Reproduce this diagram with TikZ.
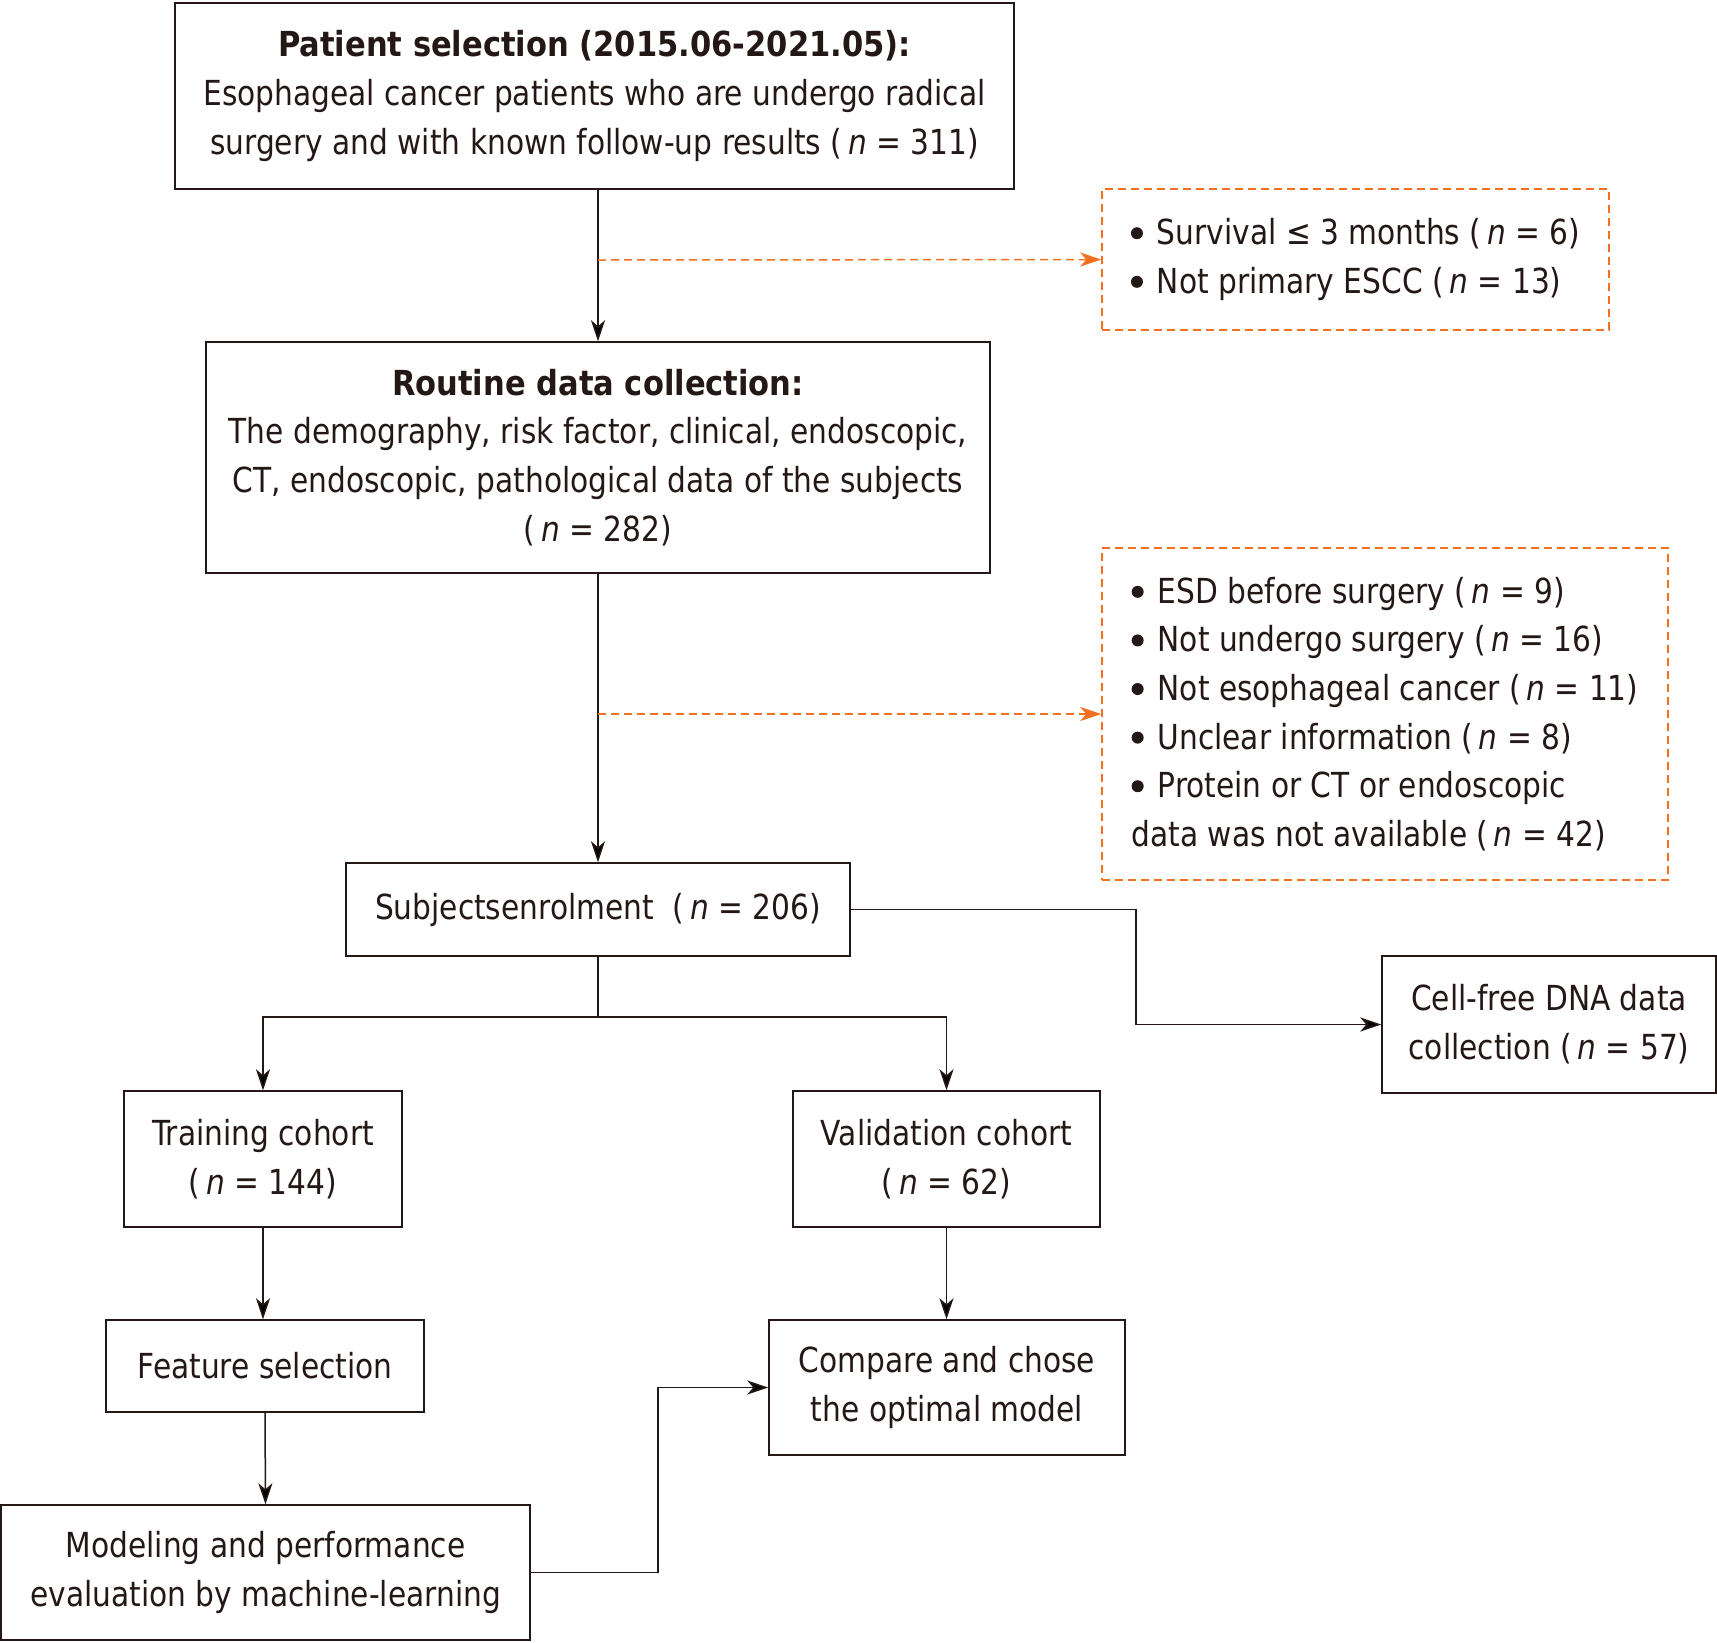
\documentclass[tikz,border=0pt]{standalone}
\usepackage{fontspec}
\setmainfont{DejaVu Sans}[FakeStretch=0.86]
\usetikzlibrary{arrows.meta,positioning}
\definecolor{ink}{HTML}{231815}
\definecolor{orng}{HTML}{F37021}
\tikzset{
  box/.style={draw=ink,line width=1.5pt,text=ink,align=center,inner sep=0pt,
    font=\fontsize{34.5}{48.7}\selectfont},
  exbox/.style={draw=orng,line width=1.5pt,dash pattern=on 8pt off 5pt,text=ink,
    align=left,inner sep=0pt,font=\fontsize{34.5}{48.6}\selectfont},
  conn/.style={draw=ink,line width=1.5pt,-{Stealth[length=21pt,width=14pt,inset=6pt]}},
  plain/.style={draw=ink,line width=1.5pt},
  exconn/.style={draw=orng,line width=1.5pt,dash pattern=on 8pt off 5pt,
    -{Stealth[length=21pt,width=14pt,inset=6pt,fill=orng]}}
}
\newcommand{\nn}{\textit{n}}
\newcommand{\bul}{\tikz[baseline=-11.5pt]\fill[ink] (0pt,0pt) circle (6pt);\kern 14pt\relax}
\newcommand{\hb}[1]{\scalebox{1.03}[1]{\textbf{#1}}}
\begin{document}
\begin{tikzpicture}[x=1pt,y=-1pt]
\useasboundingbox (0,0) rectangle (1717,1642);
\node[box,minimum width=839pt,minimum height=186pt] (sel) at (594.5,96)
  {\hb{Patient selection (2015.06-2021.05):}\\
   Esophageal cancer patients who are undergo radical\\
   surgery and with known follow-up results (\,\nn{} = 311)};
\node[box,minimum width=784pt,minimum height=231pt] (rout) at (598,457.5)
  {\hb{Routine data collection:}\\
   The demography, risk factor, clinical, endoscopic,\\
   CT, endoscopic, pathological data of the subjects\\
   (\,\nn{} = 282)};
\node[exbox,minimum width=507pt,minimum height=141pt] (ex1) at (1355.5,259.5)
  {\bul Survival ≤ 3 months (\,\nn{} = 6)\\
   \bul Not primary ESCC (\,\nn{} = 13)};
\node[exbox,minimum width=566pt,minimum height=332pt] (ex2) at (1385,714)
  {\bul ESD before surgery (\,\nn{} = 9)\\
   \bul Not undergo surgery (\,\nn{} = 16)\\
   \bul Not esophageal cancer (\,\nn{} = 11)\\
   \bul Unclear information (\,\nn{} = 8)\\
   \bul Protein or CT or endoscopic\\
   data was not available (\,\nn{} = 42)};
\node[box,minimum width=504pt,minimum height=93pt] (subj) at (598,909.5)
  {Subjectsenrolment~~(\,\nn{} = 206)};
\node[box,minimum width=334pt,minimum height=137pt] (cell) at (1549,1024.5)
  {Cell-free DNA data\\collection (\,\nn{} = 57)};
\node[box,minimum width=278pt,minimum height=136pt] (train) at (263,1159)
  {Training cohort\\(\,\nn{} = 144)};
\node[box,minimum width=307pt,minimum height=136pt] (valid) at (946.5,1159)
  {Validation cohort\\(\,\nn{} = 62)};
\node[box,minimum width=318pt,minimum height=92pt] (feat) at (265,1366)
  {Feature selection};
\node[box,minimum width=356pt,minimum height=135pt] (comp) at (947,1387.5)
  {Compare and chose\\the optimal model};
\node[box,minimum width=529pt,minimum height=135pt] (model) at (265.5,1572.5)
  {Modeling and performance\\evaluation by machine-learning};
\coordinate (j1) at (598,260);
\coordinate (j2) at (598,714);
\coordinate (c3) at (1136,909.5);
\coordinate (sp) at (598,1017);
\coordinate (c4) at (658,1573);
\draw[conn] (rout.north |- sel.south) -- (rout.north);
\draw[exconn] (j1) -- (ex1.west);
\draw[conn] (rout.south) -- (subj.north);
\draw[exconn] (j2) -- (ex2.west);
\draw[conn] (subj.east) -| (c3) |- (cell.west);
\draw[plain] (subj.south) -- (sp);
\draw[conn] (sp) -| (train.north);
\draw[conn] (sp) -| (valid.north);
\draw[conn] (train.south) -- (train.south |- feat.north);
\draw[conn] (feat.south) -- (model.north);
\draw[conn] (valid.south) -- (valid.south |- comp.north);
\draw[conn] (model.east) -| (c4) |- (comp.west);
\end{tikzpicture}
\end{document}
